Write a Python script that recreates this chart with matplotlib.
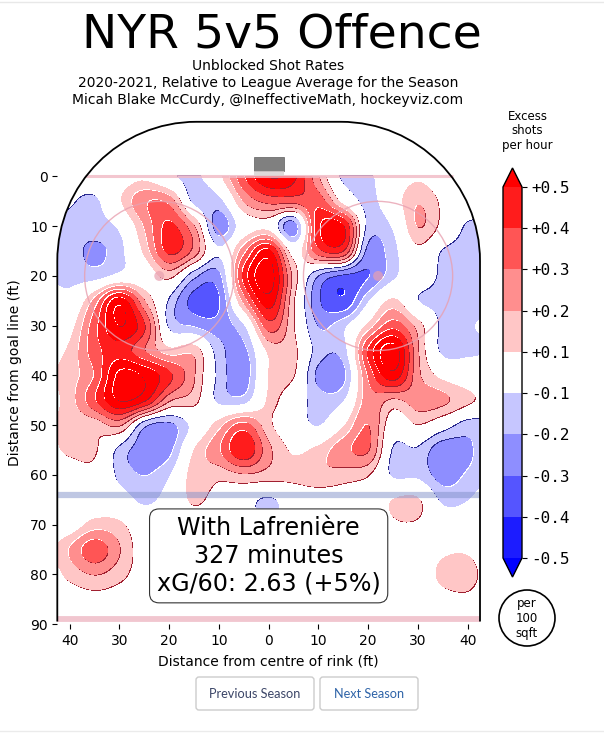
import numpy as np
import matplotlib
matplotlib.use('Agg')
from matplotlib import pyplot as plt
from matplotlib.colors import ListedColormap, BoundaryNorm
from matplotlib.cm import ScalarMappable
from matplotlib.patches import Circle, FancyBboxPatch, PathPatch, Rectangle
from matplotlib.path import Path
from matplotlib.transforms import ScaledTranslation

# excess shots at 5ft spacing (hundredths)
x_ft = [-45, -40, -35, -30, -25, -20, -15, -10, -5, 0, 5, 10, 15, 20, 25, 30, 35, 40, 45]
y_ft = [0, 5, 10, 15, 20, 25, 30, 35, 40, 45, 50, 55, 60, 65, 70, 75, 80, 85, 90]
excess = [
    [0, 0, 0, 2, 7, -6, -13, 6, 38, 60, 52, 20, -12, -12, 0, 8, 0, 0, 0],
    [-5, -8, -12, 8, 28, 26, -12, -13, 20, 32, 32, 36, 5, -13, 2, 19, 7, 0, 0],
    [-10, -13, -14, -7, 20, 42, 20, -25, 0, 5, -25, 46, 50, -12, -8, 20, 5, -11, -11],
    [-12, -15, -22, -13, 12, 42, 25, -8, 25, 52, 3, 36, 38, -22, -13, 6, -10, -13, -13],
    [-10, -13, -14, -5, 0, 12, -15, -22, 42, 65, 15, -18, -30, -30, -12, 0, -12, -13, -13],
    [-2, -5, 22, 55, 20, -10, -33, -30, 22, 55, 10, -27, -38, -10, 12, -9, -13, -13, -13],
    [2, 5, 35, 60, 40, -11, -20, -25, -10, 35, 10, -20, -12, 12, 35, 15, -12, -11, -7],
    [5, 12, 35, 45, 30, 13, 16, -15, -22, 12, 12, -14, -14, 40, 65, 20, -12, -12, -10],
    [8, 15, 30, 62, 58, 42, 20, -12, -25, 10, 10, -22, -22, 30, 55, 22, 6, 0, 0],
    [5, 15, 38, 60, 50, 20, 13, -12, -14, 11, 0, -15, -10, 25, 17, 25, 22, 12, 5],
    [8, 13, 13, 20, -15, -22, -5, 15, 33, 12, 0, -10, 8, 30, 0, 9, -2, -14, -13],
    [5, 12, 11, -12, -25, -22, 10, 28, 48, 22, 8, 13, 26, 30, -10, -11, -26, -22, -10],
    [0, 2, 5, -12, -20, -10, 15, 13, 18, 15, 14, 18, 15, 10, -11, -12, -24, -18, -10],
    [0, 0, 0, -3, -12, -4, 12, 2, -4, -11, -3, 0, 0, 0, 10, 11, -12, -10, 0],
    [0, 2, 14, 12, -1, 0, 0, 0, -3, -8, -2, 0, 0, 0, 8, 8, 0, 0, 0],
    [5, 20, 36, 20, 2, 0, 0, 0, 0, 0, 0, 0, 0, 0, 0, 0, 7, 8, 0],
    [2, 13, 20, 13, 3, 0, 0, 0, 0, 0, 0, 0, 0, 0, 0, 0, 13, 14, 2],
    [0, 2, 5, 3, 0, 0, 0, 0, 0, 0, 0, 0, 0, 0, 0, 0, 5, 7, 0],
    [0, 0, 0, 0, 0, 0, 0, 0, 0, 0, 0, 0, 0, 0, 0, 0, 0, 0, 0],
]

cbar_levels = [-0.5, -0.4, -0.3, -0.2, -0.1, 0.1, 0.2, 0.3, 0.4, 0.5]
cbar_labels = ['-0.5', '-0.4', '-0.3', '-0.2', '-0.1', '+0.1', '+0.2', '+0.3', '+0.4', '+0.5']
reds = ['#ffc6c6', '#ff8e8e', '#ff5555', '#ff1c1c', '#ff0000', '#ff0000', '#ff0000']
blues = ['#c6c6ff', '#8e8eff', '#5555ff', '#1c1cff', '#0000ff', '#0000ff', '#0000ff']
ring_levels = [0.1, 0.2, 0.3, 0.4, 0.5, 0.6, 0.7]

W, H = 604, 746


def fx(px):
    return px / W


def fy(py):
    return 1 - py / H


def smooth(z, n=10):
    # catmull-rom along the first axis, just to round off the coarse grid
    p = np.pad(z, ((1, 2), (0, 0)), mode='edge')
    t = np.arange(n) / n
    rows = []
    for i in range(1, p.shape[0] - 2):
        for s in t:
            rows.append(0.5 * (2 * p[i] + (p[i + 1] - p[i - 1]) * s
                               + (2 * p[i - 1] - 5 * p[i] + 4 * p[i + 1] - p[i + 2]) * s ** 2
                               + (3 * p[i] - p[i - 1] - 3 * p[i + 1] + p[i + 2]) * s ** 3))
    return np.array(rows[:(z.shape[0] - 1) * n + 1])


fig = plt.figure(figsize=(W / 100, H / 100), dpi=100)
ax = fig.add_axes([fx(57.3), fy(624), (480 - 57.3) / W, (624 - 121.8) / H])
ax.set_xlim(-42.5, 42.5)
ax.set_ylim(90, -11)

z = np.array(excess) / 100
zz = smooth(smooth(z).T).T
xx = np.linspace(x_ft[0], x_ft[-1], zz.shape[1])
yy = np.linspace(y_ft[0], y_ft[-1], zz.shape[0])

# rink outline
corner = 28
k = 0.5523 * corner
verts = [(-42.5, 89.5), (-42.5, -11 + corner),
         (-42.5, -11 + corner - k), (-42.5 + corner - k, -11), (-42.5 + corner, -11),
         (42.5 - corner, -11),
         (42.5 - corner + k, -11), (42.5, -11 + corner - k), (42.5, -11 + corner),
         (42.5, 89.5)]
codes = [Path.MOVETO, Path.LINETO, Path.CURVE4, Path.CURVE4, Path.CURVE4, Path.LINETO,
         Path.CURVE4, Path.CURVE4, Path.CURVE4, Path.LINETO]
rink = PathPatch(Path(verts, codes), fill=False, ec='black', lw=1.3, zorder=6, clip_on=False)
ax.add_patch(rink)
clip = PathPatch(Path(verts + [(-42.5, 89.5)], codes + [Path.LINETO]), transform=ax.transData)

light = ax.transData + ScaledTranslation(-0.8 / 100, 0.8 / 100, fig.dpi_scale_trans)
dark = ax.transData + ScaledTranslation(0.8 / 100, -0.8 / 100, fig.dpi_scale_trans)

# each step gets a white edge and a dark edge, then its own fill
for lev, r, b in zip(ring_levels, reds, blues):
    for off, col in [(light, 'white'), (dark, '#a02030')]:
        cs = ax.contourf(xx, yy, zz, levels=[lev, 9], colors=[col], transform=off, zorder=2)
        cs.set_clip_path(clip)
    cs = ax.contourf(xx, yy, zz, levels=[lev, 9], colors=[r], zorder=2)
    cs.set_clip_path(clip)
    for off, col in [(light, '#2a2a90'), (dark, 'white')]:
        cs = ax.contourf(xx, yy, zz, levels=[-9, -lev], colors=[col], transform=off, zorder=2)
        cs.set_clip_path(clip)
    cs = ax.contourf(xx, yy, zz, levels=[-9, -lev], colors=[b], zorder=2)
    cs.set_clip_path(clip)

# rink markings
ax.plot([-37, 37], [-0.2, -0.2], color='#f0b8c4', lw=2.2, alpha=0.8, zorder=3, solid_capstyle='butt')
ax.plot([-42.5, 42.5], [64.1, 64.1], color='#8090c8', lw=4.5, alpha=0.5, zorder=3, solid_capstyle='butt')
ax.plot([-42.5, 42.5], [88.9, 88.9], color='#e8a0b0', lw=4.2, alpha=0.6, zorder=3, solid_capstyle='butt')
for cx in [-22, 22]:
    ax.add_patch(Circle((cx, 20), 15, fill=False, ec='#e8a0b0', lw=1, alpha=0.8, zorder=3))
    ax.add_patch(Circle((cx, 20), 1, fc='#e8a0b0', ec='none', alpha=0.7, zorder=3))
ax.add_patch(Rectangle((-2.9, -3.9), 5.9, 2.7, fc='#808080', ec='#606060', lw=0.5, zorder=4))
ax.add_patch(Rectangle((-2.9, -1.2), 5.9, 1, fc='#d8d0d0', ec='none', alpha=0.8, zorder=4))

for s in ax.spines.values():
    s.set_visible(False)
ax.set_xticks([-40, -30, -20, -10, 0, 10, 20, 30, 40])
ax.set_xticklabels(['40', '30', '20', '10', '0', '10', '20', '30', '40'])
ax.set_yticks(range(0, 91, 10))
ax.tick_params(labelsize=10, length=3.5, width=0.8, pad=3.5)
ax.set_xlabel('Distance from centre of rink (ft)', fontsize=10, labelpad=5)
ax.set_ylabel('Distance from goal line (ft)', fontsize=10, labelpad=6)

ax.text(0, 76.3, 'With Lafrenière\n327 minutes\nxG/60: 2.63 (+5%)', ha='center', va='center',
        fontsize=17.2, linespacing=1.2, zorder=7,
        bbox=dict(boxstyle='round,pad=0.3,rounding_size=0.4', fc='white', ec='#333333', lw=0.8))

# colour bar, the axes include the two end triangles
cax = fig.add_axes([fx(503), fy(577), 19 / W, (577 - 168) / H])
cmap = ListedColormap(blues[3::-1] + ['white'] + reds[:4])
cmap.set_under('#0000ff')
cmap.set_over('#ff0000')
norm = BoundaryNorm(cbar_levels, cmap.N)
cb = fig.colorbar(ScalarMappable(norm=norm, cmap=cmap), cax=cax, extend='both', spacing='uniform',
                  extendfrac=19 / 371, ticks=cbar_levels, drawedges=False)
cb.ax.set_yticklabels(cbar_labels, family='DejaVu Sans Mono', fontsize=11.5)
cb.ax.tick_params(length=3.5, width=0.8, pad=3)
cb.outline.set_linewidth(1)

for py, s in zip([116, 131, 146], ['Excess', 'shots', 'per hour']):
    fig.text(fx(527.5), fy(py), s, ha='center', va='center', fontsize=8.5)

fig.add_artist(Circle((527, 746 - 618), 28, transform=None, fc='white', ec='black', lw=1.2))
for py, s in zip([604, 619, 634], ['per', '100', 'sqft']):
    fig.text(fx(527), fy(py), s, ha='center', va='center', fontsize=8.5)

# titles
fig.text(fx(281.5), fy(35), 'NYR 5v5 Offence', ha='center', va='center', fontsize=34)
for py, s in zip([66, 83, 100], ['Unblocked Shot Rates',
                                 '2020-2021, Relative to League Average for the Season',
                                 'Micah Blake McCurdy, @IneffectiveMath, hockeyviz.com']):
    fig.text(fx(268), fy(py), s, ha='center', va='center', fontsize=10)

# page furniture around the picture
for x0, x1, label, col in [(196, 314, 'Previous Season', '#3c4668'), (320, 418, 'Next Season', '#2f64a8')]:
    fig.add_artist(FancyBboxPatch((x0, 746 - 710), x1 - x0, 33, boxstyle='round,pad=0,rounding_size=3',
                                  transform=None, fc='white', ec='#cccccc', lw=1))
    fig.text(fx((x0 + x1) / 2), fy(693.5), label, ha='center', va='center', fontsize=9.2, family='Lato', color=col)
fig.add_artist(plt.Line2D([0, 1], [fy(731), fy(731)], color='#ebebeb', lw=1))
fig.add_artist(plt.Line2D([0, 1], [fy(2), fy(2)], color='#e8e8e8', lw=1))

fig.savefig('out.png', dpi=100)
